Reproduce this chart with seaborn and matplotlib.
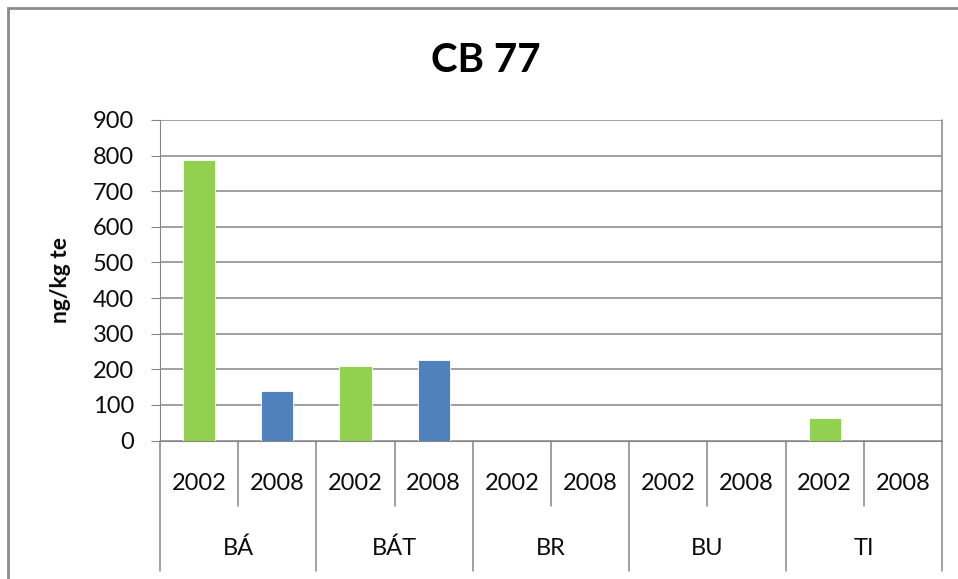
import pandas as pd
import matplotlib
matplotlib.use("Agg")
import matplotlib.pyplot as plt
from matplotlib.patches import Rectangle
import seaborn as sns

# data
sites = ["BÁ", "BÁT", "BR", "BU", "TI"]
years = ["2002", "2008"]
values_2002 = [789, 209, 0, 0, 63]
values_2008 = [138, 227, 0, 0, 0]
colors = {"2002": "#92D050", "2008": "#4F81BD"}

rows = []
for i, site in enumerate(sites):
    rows.append({"slot": f"{site} 2002", "site": site, "year": "2002", "value": values_2002[i]})
    rows.append({"slot": f"{site} 2008", "site": site, "year": "2008", "value": values_2008[i]})
df = pd.DataFrame(rows)
slots = list(df["slot"])

sns.set_style("white")
plt.rcParams["font.family"] = ["Lato", "DejaVu Sans"]

fig = plt.figure(figsize=(9.58, 5.79), dpi=100)
ax = fig.add_axes([160 / 958, 1 - 440.5 / 579, (942 - 160) / 958, 320.5 / 579])

sns.barplot(data=df, x="slot", y="value", hue="year", order=slots,
            palette=colors, dodge=False, width=0.41, legend=False, ax=ax,
            saturation=1, edgecolor="white", linewidth=0.6)

grid_c = "#868686"
txt_c = "#0d0d0d"
ax.set_ylim(0, 900)
ax.set_xlim(-0.5, len(slots) - 0.5)
ax.set_yticks(range(0, 901, 100))
ax.yaxis.grid(True, color=grid_c, linewidth=1.1)
ax.set_axisbelow(True)
for s in ["top", "right"]:
    ax.spines[s].set_visible(False)
ax.spines["left"].set_color(grid_c)
ax.spines["bottom"].set_color(grid_c)
ax.tick_params(axis="y", left=True, length=6.5, color=grid_c, labelsize=17, pad=12, labelcolor=txt_c)
ax.set_xticks([])
ax.set_xlabel("")
ax.set_ylabel("ng/kg te", fontsize=16.5, fontweight="bold", labelpad=16, color=txt_c)

# two-level category axis drawn as a table below the plot
trans = ax.get_xaxis_transform()
sub_depth = -65 / 320.5
grp_depth = -130 / 320.5
for b in range(len(slots) + 1):
    depth = grp_depth if b % 2 == 0 else sub_depth
    ax.plot([b - 0.5, b - 0.5], [0, depth], transform=trans, color=grid_c,
            linewidth=1.1, clip_on=False)
ax.plot([len(slots) - 0.5] * 2, [0, 1], transform=trans, color=grid_c,
        linewidth=1.1, clip_on=False)
for k, row in df.iterrows():
    ax.text(k, -43 / 320.5, row["year"], transform=trans, ha="center", va="center",
            fontsize=17, color=txt_c)
for g, site in enumerate(sites):
    ax.text(2 * g + 0.5, -108 / 320.5, site, transform=trans, ha="center", va="center",
            fontsize=17, color=txt_c)

fig.text(486 / 958, 1 - 60 / 579, "CB 77", ha="center", va="center",
         fontsize=29, fontweight="bold", color="black")

# outer chart frame
fig.patches.append(Rectangle((8 / 958, -0.1), 1.2, 1 - 8 / 579 + 0.1,
                             transform=fig.transFigure, fill=False,
                             edgecolor="#8c8c8c", linewidth=2))

fig.savefig("out.png", dpi=100)
